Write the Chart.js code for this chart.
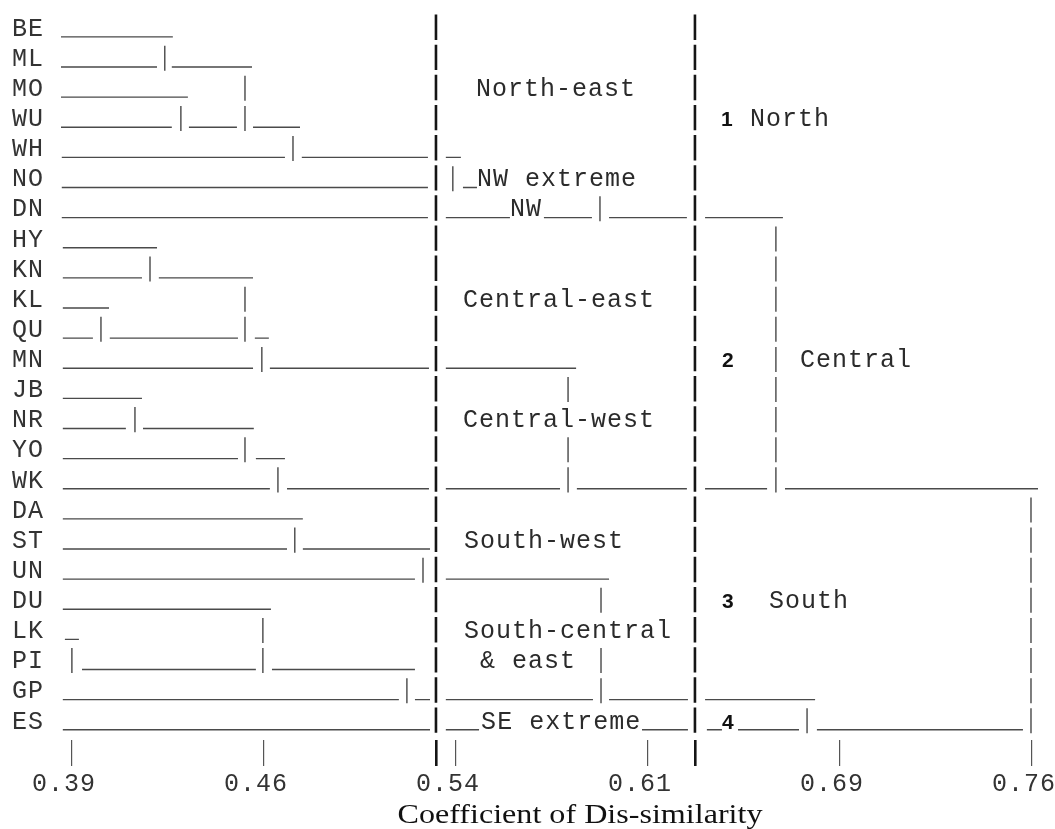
<!DOCTYPE html>
<html>
<head>
<meta charset="utf-8">
<title>Coefficient of Dis-similarity</title>
<script src="https://cdn.jsdelivr.net/npm/chart.js@4.4.1/dist/chart.umd.min.js"></script>
<style>
  html, body { margin: 0; padding: 0; background: #fff; }
  #wrap { width: 1055px; height: 829px; position: relative; }
</style>
</head>
<body>
<div id="wrap"><canvas id="dendro"></canvas></div>
<script>
// sites, top to bottom
const sites = ["BE", "ML", "MO", "WU", "WH", "NO", "DN", "HY", "KN", "KL", "QU", "MN",
               "JB", "NR", "YO", "WK", "DA", "ST", "UN", "DU", "LK", "PI", "GP", "ES"];

// horizontal strokes on each row, [from, to] in dissimilarity
const branches = [
    [[0.3858, 0.4289]],
    [[0.3858, 0.4228], [0.4285, 0.4594]],
    [[0.3858, 0.4347]],
    [[0.3858, 0.4285], [0.4351, 0.4536], [0.4598, 0.4779]],
    [[0.3861, 0.4721], [0.4786, 0.5272], [0.5341, 0.5399]],
    [[0.3861, 0.5272], [0.5407, 0.5461]],
    [[0.3861, 0.5272], [0.5341, 0.5588], [0.5719, 0.5904], [0.5970, 0.6270], [0.6340, 0.6640]],
    [[0.3865, 0.4228]],
    [[0.3865, 0.4170], [0.4235, 0.4598]],
    [[0.3865, 0.4043]],
    [[0.3865, 0.3981], [0.4046, 0.4540], [0.4605, 0.4659]],
    [[0.3865, 0.4598], [0.4663, 0.5276], [0.5341, 0.5843]],
    [[0.3865, 0.4170]],
    [[0.3865, 0.4108], [0.4174, 0.4601]],
    [[0.3865, 0.4540], [0.4609, 0.4721]],
    [[0.3865, 0.4663], [0.4729, 0.5276], [0.5341, 0.5781], [0.5846, 0.6270], [0.6340, 0.6579], [0.6648, 0.7623]],
    [[0.3865, 0.4790]],
    [[0.3865, 0.4729], [0.4790, 0.5280]],
    [[0.3865, 0.5222], [0.5341, 0.5970]],
    [[0.3865, 0.4667]],
    [[0.3873, 0.3927]],
    [[0.3939, 0.4609], [0.4671, 0.5222]],
    [[0.3865, 0.5160], [0.5222, 0.5280], [0.5341, 0.5908], [0.5970, 0.6274], [0.6340, 0.6764]],
    [[0.3865, 0.5280], [0.5341, 0.5469], [0.6097, 0.6274], [0.6347, 0.6405], [0.6467, 0.6702], [0.6771, 0.7565]]
];

// short "|" joins on each row
const joins = [
    [],
    [0.4258],
    [0.4567],
    [0.4320, 0.4567],
    [0.4752],
    [0.5368],
    [0.5935],
    [0.6613],
    [0.4201, 0.6613],
    [0.4567, 0.6613],
    [0.4012, 0.4567, 0.6613],
    [0.4632, 0.6613],
    [0.5812, 0.6613],
    [0.4143, 0.6613],
    [0.4567, 0.5812, 0.6613],
    [0.4694, 0.5812, 0.6613],
    [0.7596],
    [0.4759, 0.7596],
    [0.5253, 0.7596],
    [0.5939, 0.7596],
    [0.4636, 0.7596],
    [0.39, 0.4636, 0.5939, 0.7596],
    [0.5191, 0.5939, 0.7596],
    [0.6733, 0.7596]
];

// the two heavy cut lines
const cutLevels = [0.5303, 0.6301];

// axis
const tickValues = [0.39, 0.464, 0.538, 0.612, 0.686, 0.76];
const axisTitle = "Coefficient of Dis-similarity";

// sub-group names
const groupNames = ["North-east", "NW extreme", "NW", "Central-east", "Central-west",
                    "South-west", "South-central", "& east", "SE extreme"];
const groupRows = [2, 5, 6, 9, 13, 17, 20, 21, 23];
const groupStart = [0.5457, 0.5461, 0.5588, 0.5407, 0.5407, 0.5411, 0.5411, 0.5473, 0.5477];

// main regions
const regionNumbers = ["1", "2", "3", "4"];
const regionNumberRows = [3, 11, 19, 23];
const regionNumberStart = [0.6401, 0.6405, 0.6405, 0.6405];
const regionNames = ["North", "Central", "South"];
const regionNameRows = [3, 11, 19];
const regionNameStart = [0.6513, 0.6706, 0.6586];

const MONO = '"Liberation Mono", "DejaVu Sans Mono", monospace';

// build broken polylines, a null point ends each stroke
const branchPoints = [];
branches.forEach((segs, r) => {
    segs.forEach(([a, b]) => {
        branchPoints.push({x: a, y: r + 0.26}, {x: b, y: r + 0.26}, {x: b, y: null});
    });
});

const joinPoints = [];
joins.forEach((list, r) => {
    list.forEach(v => {
        joinPoints.push({x: v, y: r - 0.45}, {x: v, y: r + 0.38}, {x: v, y: null});
    });
});

const cutPoints = [];
cutLevels.forEach(c => {
    sites.forEach((_, r) => {
        cutPoints.push({x: c, y: r - 0.48}, {x: c, y: r + 0.36}, {x: c, y: null});
    });
});

const strokeStyle = {
    showLine: true,
    pointRadius: 0,
    pointHoverRadius: 0,
    spanGaps: false,
    borderCapStyle: "butt",
    clip: false,
};

const annotate = {
    id: "annotate",
    beforeDraw(chart) {
        chart.ctx.letterSpacing = "1px";
    },
    afterDatasetsDraw(chart) {
        const {ctx, scales: {x, y}} = chart;
        ctx.save();
        ctx.letterSpacing = "1px";
        ctx.textBaseline = "middle";
        ctx.textAlign = "left";
        ctx.fillStyle = "#2b2b2b";

        ctx.font = "25px " + MONO;
        groupNames.forEach((t, i) => {
            ctx.fillText(t, x.getPixelForValue(groupStart[i]), y.getPixelForValue(groupRows[i]));
        });
        regionNames.forEach((t, i) => {
            ctx.fillText(t, x.getPixelForValue(regionNameStart[i]), y.getPixelForValue(regionNameRows[i]));
        });

        ctx.letterSpacing = "0px";
        ctx.fillStyle = "#111";
        ctx.font = "bold 21px \"Liberation Sans\", Arial, sans-serif";
        regionNumbers.forEach((t, i) => {
            ctx.fillText(t, x.getPixelForValue(regionNumberStart[i]), y.getPixelForValue(regionNumberRows[i]) + 1);
        });
        ctx.restore();
    },
    afterDraw(chart) {
        // axis title, set a little right of centre as in the print
        const ctx = chart.ctx;
        ctx.save();
        ctx.letterSpacing = "0px";
        ctx.font = "27px \"Liberation Serif\", \"Times New Roman\", serif";
        ctx.fillStyle = "#111";
        ctx.textAlign = "center";
        ctx.textBaseline = "alphabetic";
        const w = ctx.measureText(axisTitle).width;
        ctx.translate(580, 823);
        ctx.scale(365 / w, 1);
        ctx.fillText(axisTitle, 0, 0);
        ctx.restore();
    }
};

new Chart(document.getElementById("dendro"), {
    type: "scatter",
    data: {
        datasets: [
            {...strokeStyle, label: "branches", data: branchPoints, borderColor: "#4a4a4a", borderWidth: 1.4},
            {...strokeStyle, label: "joins", data: joinPoints, borderColor: "#3a3a3a", borderWidth: 1.3},
            {...strokeStyle, label: "cuts", data: cutPoints, borderColor: "#151515", borderWidth: 2.6},
        ]
    },
    options: {
        responsive: true,
        maintainAspectRatio: false,
        animation: false,
        events: [],
        layout: {
            padding: {left: 12, right: 17, top: 14, bottom: 29},
        },
        plugins: {
            legend: {display: false},
            tooltip: {enabled: false},
        },
        scales: {
            x: {
                type: "linear",
                min: 0.3858,
                max: 0.7623,
                afterBuildTicks: (scale) => {
                    scale.ticks = [...tickValues, ...cutLevels]
                        .sort((a, b) => a - b)
                        .map(v => ({value: v}));
                },
                afterFit: (scale) => {
                    scale.height = 60;
                    scale.paddingLeft = 0;
                    scale.paddingRight = 0;
                },
                grid: {
                    drawOnChartArea: false,
                    drawTicks: true,
                    tickLength: 26,
                    lineWidth: (ctx) => cutLevels.includes(ctx.tick && ctx.tick.value) ? 2.6 : 1.2,
                    color: (ctx) => cutLevels.includes(ctx.tick && ctx.tick.value) ? "#151515" : "#555",
                },
                border: {display: false},
                ticks: {
                    autoSkip: false,
                    maxRotation: 0,
                    padding: 3,
                    labelOffset: -8,
                    color: "#333",
                    font: {family: MONO, size: 25},
                    callback: (value) => tickValues.includes(value) ? value.toFixed(2) : "",
                },
            },
            y: {
                type: "linear",
                reverse: true,
                min: -0.5,
                max: 23.6,
                afterBuildTicks: (scale) => {
                    scale.ticks = sites.map((_, i) => ({value: i}));
                },
                afterFit: (scale) => {
                    scale.width = 49;
                    scale.paddingTop = 0;
                    scale.paddingBottom = 0;
                },
                grid: {display: false},
                border: {display: false},
                ticks: {
                    autoSkip: false,
                    crossAlign: "far",
                    padding: 0,
                    color: "#333",
                    font: {family: MONO, size: 25},
                    callback: (value) => sites[value] || "",
                },
            },
        },
    },
    plugins: [annotate],
});
</script>
</body>
</html>
